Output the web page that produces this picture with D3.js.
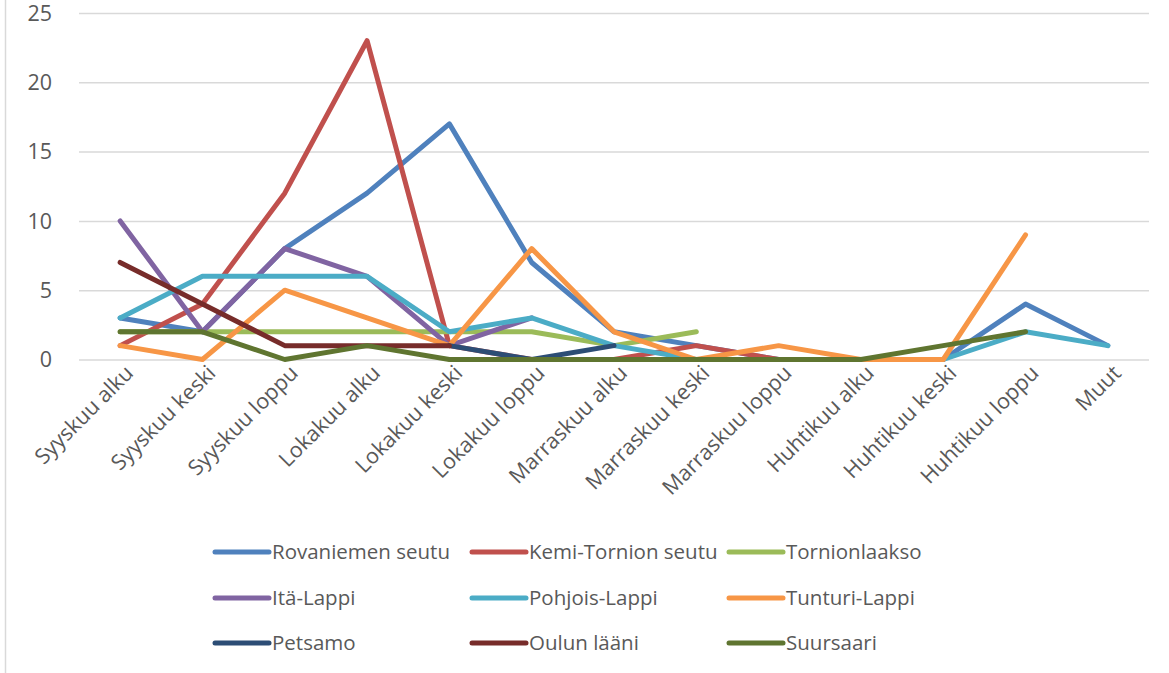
<!DOCTYPE html>
<html>
<head>
<meta charset="utf-8">
<script src="https://cdn.jsdelivr.net/npm/d3@7"></script>
<style>
  body { margin: 0; background: #fff; }
  svg { display: block; font-family: "Open Sans", "Noto Sans", sans-serif; }
</style>
</head>
<body>
<svg id="chart"></svg>
<script>
// categories on the x axis
const categories = ["Syyskuu alku", "Syyskuu keski", "Syyskuu loppu", "Lokakuu alku", "Lokakuu keski",
  "Lokakuu loppu", "Marraskuu alku", "Marraskuu keski", "Marraskuu loppu", "Huhtikuu alku",
  "Huhtikuu keski", "Huhtikuu loppu", "Muut"]

// series values (null = no value)
const rovaniemenSeutu  = [3, 2, 8, 12, 17, 7, 2, 1, 0, 0, 0, 4, 1]
const kemiTornionSeutu = [1, 4, 12, 23, 1, 0, 0, 1, 0, 0, 0, null, null]
const tornionlaakso    = [2, 2, 2, 2, 2, 2, 1, 2, null, null, null, null, null]
const itaLappi         = [10, 2, 8, 6, 1, 3, null, null, null, null, null, null, null]
const pohjoisLappi     = [3, 6, 6, 6, 2, 3, 1, 0, 0, 0, 0, 2, 1]
const tunturiLappi     = [1, 0, 5, 3, 1, 8, 2, 0, 1, 0, 0, 9, null]
const petsamo          = [null, null, null, null, 1, 0, 1, null, null, null, null, null, null]
const oulunLaani       = [7, 4, 1, 1, 1, null, null, null, null, null, null, null, null]
const suursaari        = [2, 2, 0, 1, 0, 0, 0, 0, 0, 0, 1, 2, null]

const seriesNames = ["Rovaniemen seutu", "Kemi-Tornion seutu", "Tornionlaakso", "Itä-Lappi",
  "Pohjois-Lappi", "Tunturi-Lappi", "Petsamo", "Oulun lääni", "Suursaari"]
const yTicks = [0, 5, 10, 15, 20, 25]

const series = [rovaniemenSeutu, kemiTornionSeutu, tornionlaakso, itaLappi, pohjoisLappi,
  tunturiLappi, petsamo, oulunLaani, suursaari].map((v, i) => ({name: seriesNames[i], values: v}))

const color = d3.scaleOrdinal()
  .domain(seriesNames)
  .range(['#4F81BD', '#C0504D', '#9BBB59', '#8064A2', '#4BACC6', '#F79646', '#2C4D75', '#772C2A', '#5F7530'])

const width = 1169, height = 673
const fontSize = "20.5px"
const axisFont = "21.5px"
const svg = d3.select("#chart").attr("width", width).attr("height", height)

// chart area border (only left edge visible)
svg.append("line")
  .attr("x1", 5.5).attr("x2", 5.5).attr("y1", 0).attr("y2", height)
  .attr("stroke", "#D9D9D9").attr("stroke-width", 1.5)

const x = d3.scalePoint()
  .domain(categories)
  .range([79, 1149])
  .padding(0.5)

const y = d3.scaleLinear()
  .domain([0, 25])
  .range([359.5, 13])

// gridlines + y labels
const yAxis = svg.append("g")
  .attr("transform", "translate(79,0)")
  .call(d3.axisLeft(y).tickValues(yTicks).tickSize(-(1149 - 79)).tickPadding(27))
yAxis.select(".domain").remove()
yAxis.selectAll(".tick line").attr("stroke", "#D9D9D9").attr("stroke-width", 1.5)
yAxis.selectAll(".tick text")
  .attr("fill", "#595959").style("font-size", axisFont).style("font-family", "'Open Sans', sans-serif")
  .attr("dy", "0.34em")

// x labels, rotated
const xAxis = svg.append("g")
  .attr("transform", "translate(0,359.5)")
  .call(d3.axisBottom(x).tickSize(0).tickPadding(0))
xAxis.select(".domain").remove()
xAxis.selectAll(".tick text")
  .attr("fill", "#595959").style("font-size", axisFont).style("font-family", "'Open Sans', sans-serif")
  .attr("text-anchor", "end")
  .attr("dy", "0")
  .attr("y", 0)
  .attr("transform", "translate(14,15) rotate(-45)")

const line = d3.line()
  .defined(d => d != null)
  .x((d, i) => x(categories[i]))
  .y(d => y(d))

svg.append("g")
  .selectAll("path")
  .data(series)
  .enter().append("path")
    .attr("d", d => line(d.values))
    .attr("fill", "none")
    .attr("stroke", d => color(d.name))
    .attr("stroke-width", 5)
    .attr("stroke-linejoin", "round")
    .attr("stroke-linecap", "round")

// legend, 3 columns
const legend = svg.append("g")
  .selectAll("g")
  .data(series)
  .enter().append("g")
    .attr("transform", (d, i) => "translate(" + (215 + (i % 3) * 257) + "," + [552, 598, 643][Math.floor(i / 3)] + ")")

legend.append("line")
  .attr("x1", 0).attr("x2", 54)
  .attr("stroke", d => color(d.name))
  .attr("stroke-width", 5)
  .attr("stroke-linecap", "round")

legend.append("text")
  .attr("x", 57)
  .attr("dy", "0.35em")
  .attr("fill", "#595959")
  .style("font-size", fontSize)
  .text(d => d.name)
</script>
</body>
</html>
